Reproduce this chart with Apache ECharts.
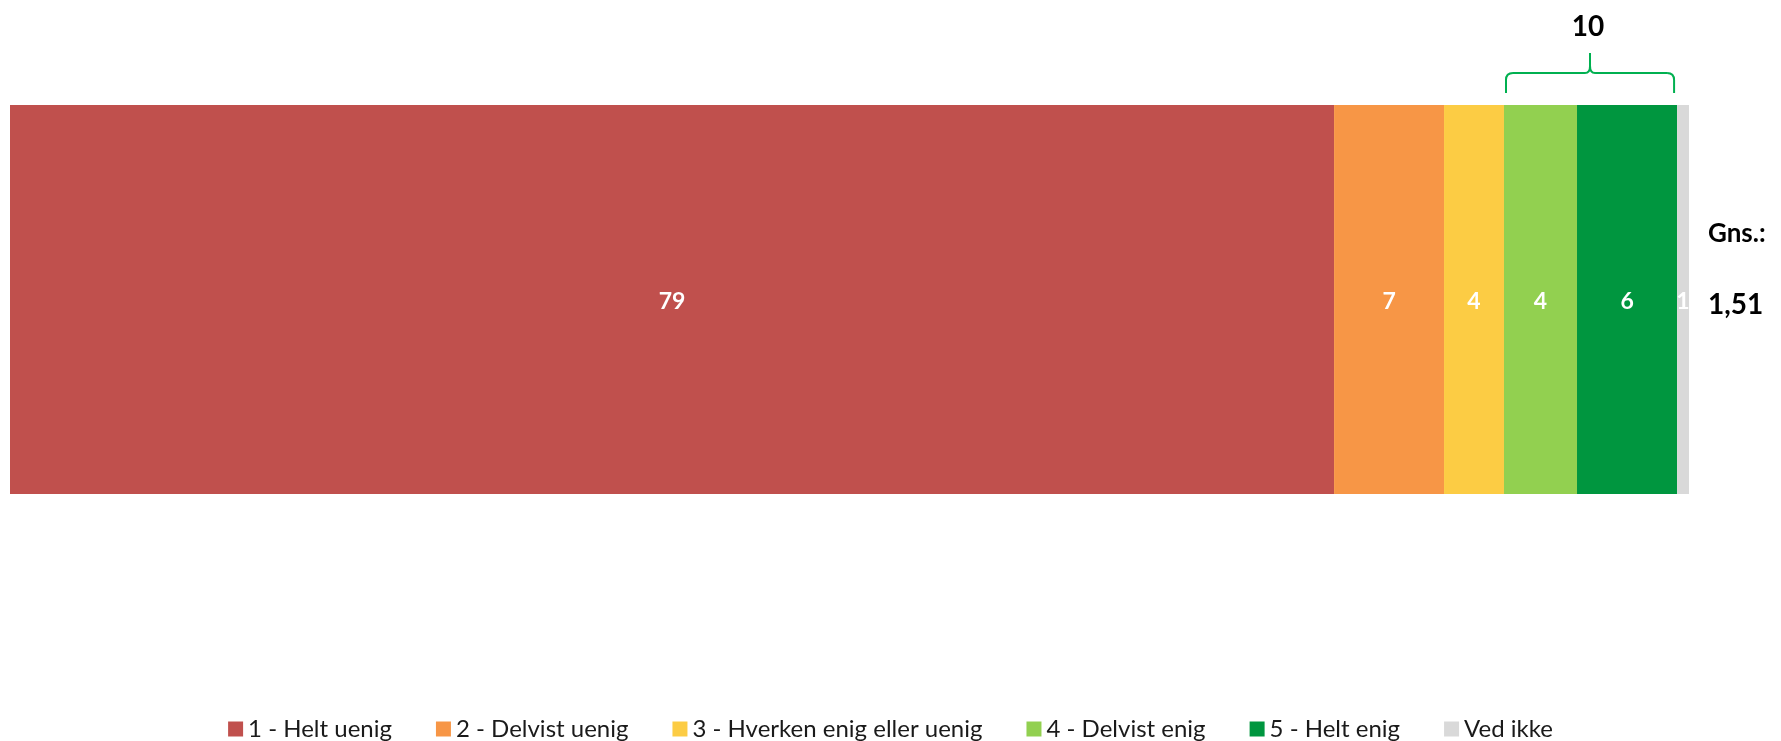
<!DOCTYPE html>
<html>
<head>
<meta charset="utf-8">
<script src="https://cdn.jsdelivr.net/npm/echarts@6/dist/echarts.min.js"></script>
<style>
html,body{margin:0;padding:0;background:#fff;}
#c{width:1781px;height:741px;}
</style>
</head>
<body>
<div id="c"></div>
<script>
const categories = ['Spørgsmål'];
const seriesNames = ['1 - Helt uenig', '2 - Delvist uenig', '3 - Hverken enig eller uenig', '4 - Delvist enig', '5 - Helt enig', 'Ved ikke'];
const values = [78.86, 6.55, 3.57, 4.35, 5.96, 0.71];
const colors = ['#C0504D', '#F79646', '#FCCC44', '#92D050', '#00963F', '#D9D9D9'];
const bracketSeries = [3, 4];
const averageTitle = 'Gns.:';
const averageValue = '1,51';

const FONT = "Lato, 'Open Sans', sans-serif";
const chart = echarts.init(document.getElementById('c'), null, {renderer: 'canvas'});

const series = seriesNames.map((name, i) => ({
  name: name,
  type: 'bar',
  stack: 'total',
  barWidth: '100%',
  data: [values[i]],
  itemStyle: {color: colors[i]},
  label: {
    show: true,
    position: 'inside',
    offset: [0, 2],
    color: '#fff',
    fontFamily: FONT,
    fontWeight: 'bold',
    fontSize: 23,
    formatter: p => String(Math.round(p.value))
  },
  emphasis: {disabled: true}
}));

const GRID_TOP = 105;
chart.setOption({
  animation: false,
  grid: {left: 10, right: 92, top: GRID_TOP, bottom: 247, containLabel: false},
  xAxis: {type: 'value', min: 0, max: 100, show: false},
  yAxis: {type: 'category', data: categories, show: false},
  legend: {
    top: 712,
    left: 'center',
    itemGap: 44,
    itemWidth: 15,
    itemHeight: 15,
    icon: 'rect',
    textStyle: {fontFamily: FONT, fontSize: 24, lineHeight: 24, color: '#1a1a1a'},
    data: seriesNames
  },
  series: series
});

// bracket over the grouped segments
let startVal = 0;
for (let i = 0; i < bracketSeries[0]; i++) startVal += values[i];
let endVal = startVal;
let sumVal = 0;
bracketSeries.forEach(i => { endVal += values[i]; sumVal += values[i]; });
const x1 = chart.convertToPixel({xAxisIndex: 0}, startVal) + 2;
const x2 = chart.convertToPixel({xAxisIndex: 0}, endVal) - 3;
const xm = (x1 + x2) / 2;
const yb = GRID_TOP - 12, yh = GRID_TOP - 32, yt = GRID_TOP - 52;
const r = 7;
const stroke = {stroke: '#00B050', lineWidth: 2, fill: null};
const L = (ax, ay, bx, by) => ({type: 'line', shape: {x1: ax, y1: ay, x2: bx, y2: by}, style: stroke, silent: true});
const Q = (ax, ay, cx, cy, bx, by) => ({type: 'bezierCurve', shape: {x1: ax, y1: ay, cpx1: cx, cpy1: cy, x2: bx, y2: by}, style: stroke, silent: true});
const gridRight = chart.convertToPixel({xAxisIndex: 0}, 100);

chart.setOption({
  graphic: [
    L(x1, yb, x1, yh + r),
    Q(x1, yh + r, x1, yh, x1 + r, yh),
    L(x1 + r, yh, xm - 5, yh),
    Q(xm - 5, yh, xm, yh, xm, yh - 7),
    L(xm, yh - 7, xm, yt),
    Q(xm, yh - 7, xm, yh, xm + 5, yh),
    L(xm + 5, yh, x2 - r, yh),
    Q(x2 - r, yh, x2, yh, x2, yh + r),
    L(x2, yh + r, x2, yb),
    {type: 'text', x: xm - 2, y: 27, style: {text: String(Math.round(sumVal)), fontFamily: FONT, fontWeight: 'bold', fontSize: 28, fill: '#000', align: 'center', verticalAlign: 'middle'}},
    {type: 'text', x: gridRight + 19, y: 234, style: {text: averageTitle, fontFamily: FONT, fontWeight: 'bold', fontSize: 26, fill: '#000', align: 'left', verticalAlign: 'middle'}},
    {type: 'text', x: gridRight + 19, y: 305, style: {text: averageValue, fontFamily: FONT, fontWeight: 'bold', fontSize: 28, fill: '#000', align: 'left', verticalAlign: 'middle'}}
  ]
});
</script>
</body>
</html>
